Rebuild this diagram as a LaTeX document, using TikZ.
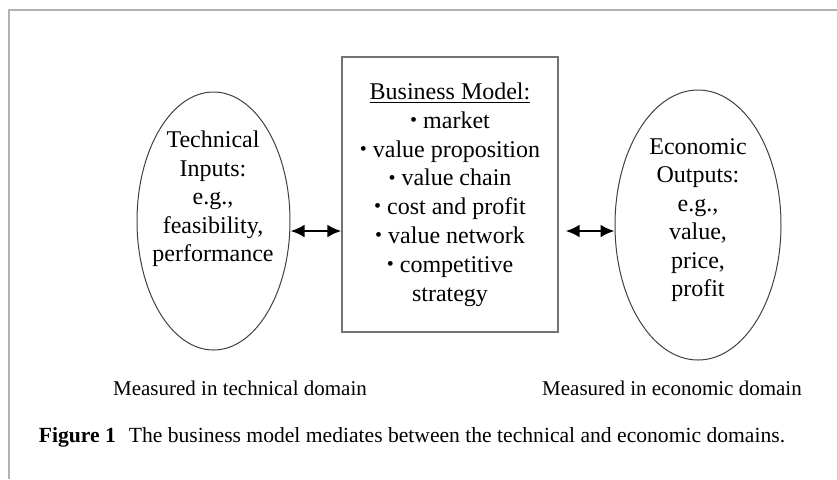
\documentclass[tikz,border=0pt]{standalone}
\usepackage{fontspec}
\setmainfont{Liberation Serif}
\usetikzlibrary{arrows.meta, shapes.geometric, positioning}

\newcommand{\bmdot}{\raisebox{0.15ex}{\fontsize{10}{10}\selectfont\textbullet}\ }

\begin{document}
\begin{tikzpicture}[x=0.5pt, y=-0.5pt,
    oval/.style={draw=black!75, ellipse, inner sep=0pt, line width=0.5pt},
    bmbox/.style={draw=black!55, line width=0.6pt, align=center,
                  font=\fontsize{12}{14.4}\selectfont},
    inside/.style={align=center, font=\fontsize{12}{14.2}\selectfont},
    link/.style={{Latex[length=7pt,width=6.5pt]}-{Latex[length=7pt,width=6.5pt]}, line width=1.3pt},
    note/.style={font=\fontsize{10.5}{12}\selectfont},
    capt/.style={font=\fontsize{10.8}{12}\selectfont},
    frameline/.style={draw=black!30, line width=0.6pt}]
  \useasboundingbox (0,0) rectangle (837,479);

  % Page frame
  \coordinate (fl) at (9,479);
  \coordinate (fc) at (9,10);
  \coordinate (fr) at (837,10);
  \draw[frameline] (fl) -- (fc) -- (fr);

  % Domains and business model
  \node[oval, minimum width=76.5pt, minimum height=129pt] (tech) at (213.5,221) {};
  \node[inside] (techtext) at (213,199)
    {Technical\\Inputs:\\e.g.,\\feasibility,\\performance};
  \node[bmbox, minimum width=108pt, minimum height=137.5pt] (bm) at (450,194.5)
    {\underline{Business Model:}\\\bmdot market\\\bmdot value proposition\\
     \bmdot value chain\\\bmdot cost and profit\\\bmdot value network\\
     \bmdot competitive\\strategy};
  \node[oval, minimum width=83pt, minimum height=135pt] (econ) at (698,225) {};
  \node[inside] (econtext) at (698,220)
    {Economic\\Outputs:\\e.g.,\\value,\\price,\\profit};

  % Links
  \draw[link] ([yshift=-5pt]tech.east) -- ([yshift=-5pt]tech.east -| bm.west);
  \draw[link, shorten <=3.5pt] ([yshift=-3pt]econ.west -| bm.east) -- ([yshift=-3pt]econ.west);

  % Notes and caption
  \node[note] (technote) at (240,388) {Measured in technical domain};
  \node[note] (econnote) at (672,388) {Measured in economic domain};
  \node[capt] (caption) at (412,437)
    {\textbf{Figure 1}\hspace{0.6em}The business model mediates between the technical and economic domains.};
\end{tikzpicture}
\end{document}
